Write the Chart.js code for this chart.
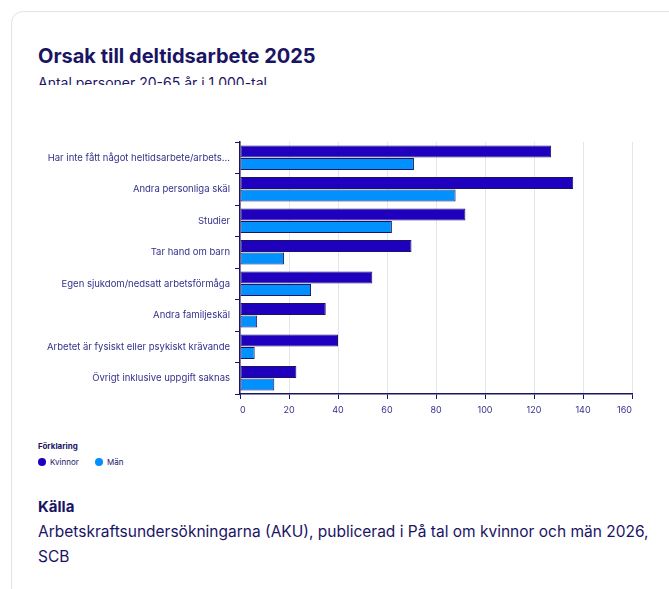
<!DOCTYPE html>
<html lang="sv">
  <head>
    <meta charset="UTF-8" />
    <title>Orsak till deltidsarbete 2025</title>
    <script src="https://cdn.jsdelivr.net/npm/chart.js"></script>
    <style>
      body {
        margin: 0;
        background: #fff;
        font-family: Inter, "Noto Sans", sans-serif;
        color: #1a1464;
        overflow: hidden;
      }

      /* Card frame, runs off the right and bottom edge */
      .card {
        position: absolute;
        left: 11px;
        top: 11px;
        width: 720px;
        height: 640px;
        border: 1px solid #e3e3e3;
        border-radius: 12px;
      }

      .title {
        position: absolute;
        left: 38px;
        top: 44px;
        margin: 0;
        font-size: 20px;
        font-weight: 700;
        color: #1a1464;
      }

      /* subtitle is cut off in the original */
      .subtitle {
        position: absolute;
        left: 38px;
        top: 72px;
        height: 13px;
        overflow: hidden;
        font-size: 14px;
        line-height: 22px;
        color: #1a1464;
      }

      .chart-box {
        position: absolute;
        left: 20px;
        top: 130px;
        width: 618px;
        height: 296px;
      }

      .legend {
        position: absolute;
        left: 38px;
        top: 441px;
        font-size: 8px;
        color: #1a1464;
      }
      .legend .head {
        font-weight: 700;
        margin-bottom: 6px;
      }
      .legend .item {
        display: inline-flex;
        align-items: center;
        margin-right: 14px;
      }
      .legend .dot {
        width: 8px;
        height: 8px;
        border-radius: 50%;
        margin-right: 4px;
      }

      .source {
        position: absolute;
        left: 38px;
        top: 494px;
        width: 625px;
        font-size: 15.5px;
        line-height: 25px;
        color: #1a1464;
      }
      .source b {
        display: block;
        font-size: 15px;
      }
    </style>
  </head>
  <body>
    <div class="card"></div>
    <h2 class="title">Orsak till deltidsarbete 2025</h2>
    <div class="subtitle">Antal personer 20-65 år i 1 000-tal</div>

    <div class="chart-box"><canvas id="chart"></canvas></div>

    <div class="legend">
      <div class="head">Förklaring</div>
      <span class="item"><span class="dot" style="background:#1e00be"></span>Kvinnor</span>
      <span class="item"><span class="dot" style="background:#0091ff"></span>Män</span>
    </div>

    <div class="source">
      <b>Källa</b>
      Arbetskraftsundersökningarna (AKU), publicerad i På tal om kvinnor och män 2026, SCB
    </div>

    <script>
      const categories = [
        "Har inte fått något heltidsarbete/arbets...",
        "Andra personliga skäl",
        "Studier",
        "Tar hand om barn",
        "Egen sjukdom/nedsatt arbetsförmåga",
        "Andra familjeskäl",
        "Arbetet är fysiskt eller psykiskt krävande",
        "Övrigt inklusive uppgift saknas"
      ];
      const kvinnor = [127, 136, 92, 70, 54, 35, 40, 23];
      const man = [71, 88, 62, 18, 29, 7, 6, 14];
      const xTicks = [0, 20, 40, 60, 80, 100, 120, 140, 160];

      const navy = "#1a1464";
      const labelColor = "#34318a";

      new Chart(document.getElementById("chart"), {
        type: "bar",
        data: {
          labels: categories,
          datasets: [
            {
              label: "Kvinnor",
              data: kvinnor,
              backgroundColor: "#1e00be",
              borderColor: navy,
              borderWidth: 1,
              borderSkipped: false,
              categoryPercentage: 0.8,
              barPercentage: 0.95
            },
            {
              label: "Män",
              data: man,
              backgroundColor: "#0091ff",
              borderColor: navy,
              borderWidth: 1,
              borderSkipped: false,
              categoryPercentage: 0.8,
              barPercentage: 0.95
            }
          ]
        },
        options: {
          indexAxis: "y",
          responsive: true,
          maintainAspectRatio: false,
          animation: false,
          layout: { padding: { top: 12, right: 2, bottom: 0, left: 0 } },
          plugins: {
            legend: { display: false },
            tooltip: { enabled: false }
          },
          scales: {
            x: {
              min: 0,
              max: 160,
              afterBuildTicks: (s) => {
                s.ticks = xTicks.map((v) => ({ value: v }));
              },
              afterFit: (s) => {
                s.height = 32;
              },
              grid: {
                color: "#e6e6e6",
                tickColor: navy,
                tickLength: 5
              },
              border: { color: navy, width: 1.5 },
              ticks: {
                color: labelColor,
                font: { family: "Inter", size: 9 },
                padding: 6,
                align: "inner",
                maxRotation: 0
              }
            },
            y: {
              afterFit: (s) => {
                s.width = 220;
              },
              grid: {
                offset: true,
                drawOnChartArea: false,
                tickColor: navy,
                tickLength: 5
              },
              border: { color: navy, width: 1.5 },
              ticks: {
                color: labelColor,
                font: { family: "Inter", size: 9.5 },
                padding: 5
              }
            }
          }
        }
      });
    </script>
  </body>
</html>
